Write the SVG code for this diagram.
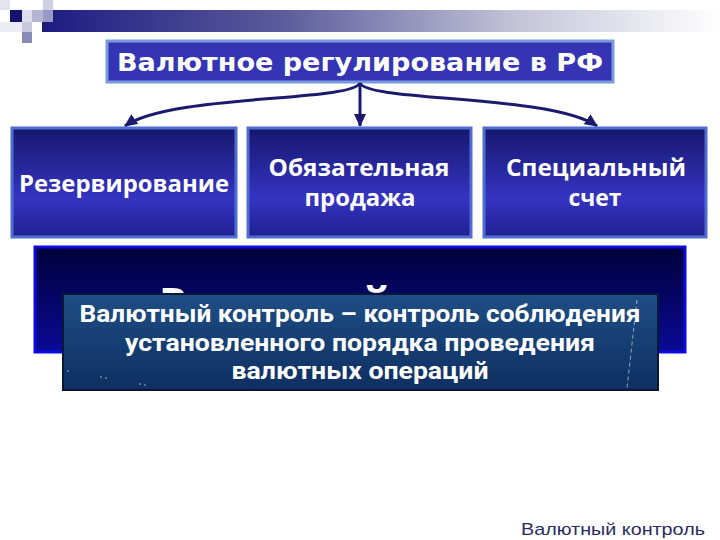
<svg xmlns="http://www.w3.org/2000/svg" width="720" height="540" viewBox="0 0 720 540">
  <defs>
    <linearGradient id="band" x1="0" y1="0" x2="1" y2="0">
      <stop offset="0" stop-color="#1c1c82"/>
      <stop offset="0.35" stop-color="#5a5a9c"/>
      <stop offset="0.7" stop-color="#c4c4d8"/>
      <stop offset="1" stop-color="#ffffff"/>
    </linearGradient>
    <linearGradient id="boxg" x1="0" y1="0" x2="0" y2="1">
      <stop offset="0" stop-color="#17176e"/>
      <stop offset="0.65" stop-color="#3434c2"/>
      <stop offset="1" stop-color="#202090"/>
    </linearGradient>
    <linearGradient id="bigg" x1="0" y1="0" x2="0" y2="1">
      <stop offset="0" stop-color="#00003a"/>
      <stop offset="1" stop-color="#0a0a96"/>
    </linearGradient>
    <linearGradient id="overg" x1="0" y1="0" x2="0" y2="1">
      <stop offset="0" stop-color="#1e4e84"/>
      <stop offset="1" stop-color="#0e2f62"/>
    </linearGradient>
    <clipPath id="hideclip">
      <rect x="35" y="247" width="650" height="47"/>
    </clipPath>
    <marker id="ah" markerUnits="userSpaceOnUse" markerWidth="14" markerHeight="12" refX="12" refY="6" orient="auto">
      <path d="M0,0 L13,6 L0,12 Z" fill="#1a1a6e"/>
    </marker>
    <style>
      .box { fill: url(#boxg); stroke: #4e6cd2; stroke-width: 3; }
      .bt { font-family: "Open Sans", "Liberation Sans", sans-serif; font-weight: bold; font-size: 23px; fill: #ffffff; text-anchor: middle; }
      .ot { font-family: Roboto, "Liberation Sans", sans-serif; font-weight: bold; font-size: 23px; fill: #ffffff; text-anchor: middle; }
      .conn { fill: none; stroke: #1a1a6e; stroke-width: 3; }
    </style>
  </defs>

  <rect width="720" height="540" fill="#ffffff"/>

  <!-- header decoration -->
  <g id="header">
    <rect x="42" y="10" width="678" height="22" fill="url(#band)"/>
    <rect x="0" y="0" width="10" height="10" fill="#e4e4f0"/>
    <rect x="10" y="10" width="12" height="12" fill="#14146e"/>
    <rect x="22" y="10" width="10" height="12" fill="#dcdcec"/>
    <rect x="32" y="10" width="11" height="12" fill="#b4b4d4"/>
    <rect x="43" y="0" width="10" height="10" fill="#d0d0e4"/>
    <rect x="43" y="10" width="10" height="12" fill="#9a9ac4"/>
    <rect x="0" y="22" width="22" height="10" fill="#ececf4"/>
    <rect x="22" y="22" width="10" height="10" fill="#c8c8e0"/>
    <rect x="22" y="32" width="10" height="11" fill="#8a8ab8"/>
  </g>

  <!-- title -->
  <g id="title">
    <rect x="107" y="41" width="506" height="41" fill="#3434b4" stroke="#7a9ae0" stroke-width="3"/>
    <text x="360" y="71" font-family="'DejaVu Sans Condensed', 'DejaVu Sans', 'Liberation Sans', sans-serif" font-weight="bold" font-size="25" fill="#ffffff" text-anchor="middle" textLength="486" lengthAdjust="spacingAndGlyphs">Валютное регулирование в РФ</text>
  </g>

  <!-- connectors -->
  <g id="connectors">
    <path class="conn" d="M360,83 C352,102 170,94 125,126" marker-end="url(#ah)"/>
    <path class="conn" d="M360,83 L360,126" marker-end="url(#ah)"/>
    <path class="conn" d="M360,83 C368,102 550,94 597,126" marker-end="url(#ah)"/>
  </g>

  <g id="node-reserve">
    <rect class="box" x="12" y="128" width="224" height="109"/>
    <text class="bt" x="124" y="192" textLength="210" lengthAdjust="spacingAndGlyphs">Резервирование</text>
  </g>

  <g id="node-sale">
    <rect class="box" x="248" y="128" width="223" height="109"/>
    <text class="bt" x="359" y="176" textLength="181" lengthAdjust="spacingAndGlyphs">Обязательная</text>
    <text class="bt" x="360" y="206" textLength="111" lengthAdjust="spacingAndGlyphs">продажа</text>
  </g>

  <g id="node-account">
    <rect class="box" x="484" y="128" width="222" height="109"/>
    <text class="bt" x="596" y="176" textLength="180" lengthAdjust="spacingAndGlyphs">Специальный</text>
    <text class="bt" x="595" y="206" textLength="53" lengthAdjust="spacingAndGlyphs">счет</text>
  </g>

  <!-- big dark box with heading mostly hidden behind the definition -->
  <g id="node-big">
    <rect x="35" y="247" width="650" height="105" fill="url(#bigg)" stroke="#0a0ae6" stroke-width="3"/>
    <g clip-path="url(#hideclip)">
      <text x="159" y="320" font-family="'Open Sans', 'Liberation Sans', sans-serif" font-weight="bold" font-size="44" fill="#ffffff" textLength="450" lengthAdjust="spacingAndGlyphs">Валютный контроль</text>
    </g>
  </g>

  <!-- overlay definition -->
  <g id="node-definition">
    <rect x="63" y="294" width="595" height="96" fill="url(#overg)" stroke="#0a1838" stroke-width="2"/>
    <line x1="637" y1="300" x2="627" y2="388" stroke="#c8d8f0" stroke-width="1" stroke-dasharray="4,3" opacity="0.7"/>
    <g fill="#dfe8ff" opacity="0.8">
      <circle cx="68" cy="371" r="0.8"/>
      <circle cx="101" cy="377" r="0.8"/>
      <circle cx="106" cy="378" r="0.8"/>
      <circle cx="140" cy="384" r="0.8"/>
      <circle cx="145" cy="385" r="0.8"/>
    </g>
    <text class="ot" x="360" y="322" textLength="561" lengthAdjust="spacingAndGlyphs">Валютный контроль – контроль соблюдения</text>
    <text class="ot" x="360" y="351" textLength="470" lengthAdjust="spacingAndGlyphs">установленного порядка проведения</text>
    <text class="ot" x="360" y="379" textLength="257" lengthAdjust="spacingAndGlyphs">валютных операций</text>
  </g>

  <!-- footer -->
  <g id="footer">
    <text x="705" y="535" font-family="'Liberation Sans', Arial, sans-serif" font-size="17" fill="#2a2a62" text-anchor="end" textLength="184" lengthAdjust="spacingAndGlyphs">Валютный контроль</text>
  </g>
</svg>
